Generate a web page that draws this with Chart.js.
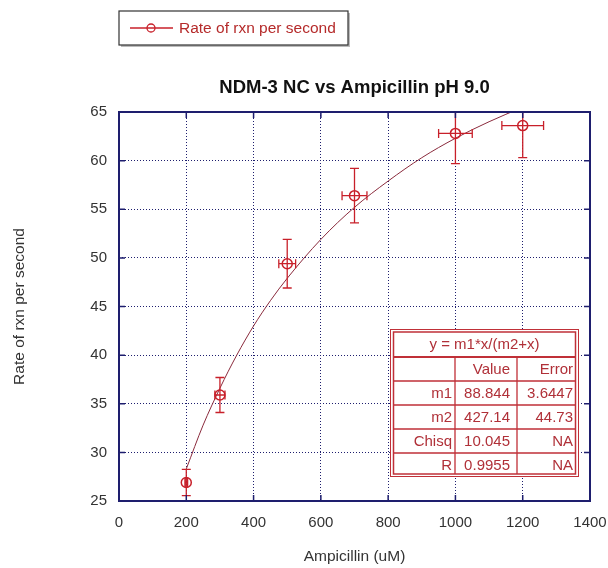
<!DOCTYPE html>
<html><head><meta charset="utf-8">
<script src="https://cdn.jsdelivr.net/npm/chart.js@4/dist/chart.umd.min.js"></script>
<style>html,body{margin:0;padding:0;background:#fff}#wrap{width:608px;height:568px;position:relative}</style>
</head><body><div id="wrap"><canvas id="c"></canvas></div>
<script>
const seriesLabel = 'Rate of rxn per second';
const chartTitle = 'NDM-3 NC vs Ampicillin pH 9.0';
const xTitle = 'Ampicillin (uM)';
const yTitle = 'Rate of rxn per second';
const ampicillin = [200, 300, 500, 700, 1000, 1200];
const rate = [26.9, 35.9, 49.4, 56.4, 62.8, 63.6];
const rateErr = [1.35, 1.8, 2.5, 2.8, 3.1, 3.3];
const ampErr = [4, 15, 25, 37, 50, 62];
const fitX = [200, 250, 300, 350, 400, 450, 500, 600, 700, 800, 900, 1000, 1100, 1200];
const fitY = [28.3, 32.8, 36.6, 40.0, 43.0, 45.6, 47.9, 51.9, 55.2, 57.9, 60.3, 62.3, 64.0, 65.5];
const xTicks = [0, 200, 400, 600, 800, 1000, 1200, 1400];
const yTicks = [25, 30, 35, 40, 45, 50, 55, 60, 65];
const tableHeader = 'y = m1*x/(m2+x)';
const tableCols = ['', 'Value', 'Error'];
const tableRows = [
  ['m1', '88.844', '3.6447'],
  ['m2', '427.14', '44.73'],
  ['Chisq', '10.045', 'NA'],
  ['R', '0.9955', 'NA']
];

const RED = '#c8202a';
const FIT = '#8a2a3c';
const NAVY = '#1e1e6e';
const FONT = "'Liberation Sans', Arial, sans-serif";

const errorBars = {
  id: 'errorBars',
  afterDatasetsDraw(chart) {
    const {ctx, chartArea: a, scales: {x, y}} = chart;
    ctx.save();
    ctx.beginPath();
    ctx.rect(a.left, a.top, a.right - a.left, a.bottom - a.top);
    ctx.clip();
    ctx.strokeStyle = RED;
    ctx.lineWidth = 1.3;
    const cap = 4.5;
    ampicillin.forEach((xv, i) => {
      const px = x.getPixelForValue(xv);
      const py = y.getPixelForValue(rate[i]);
      const yt = y.getPixelForValue(rate[i] + rateErr[i]);
      const yb = y.getPixelForValue(rate[i] - rateErr[i]);
      const xl = x.getPixelForValue(xv - ampErr[i]);
      const xr = x.getPixelForValue(xv + ampErr[i]);
      ctx.beginPath();
      ctx.moveTo(px, yt); ctx.lineTo(px, yb);
      ctx.moveTo(px - cap, yt); ctx.lineTo(px + cap, yt);
      ctx.moveTo(px - cap, yb); ctx.lineTo(px + cap, yb);
      ctx.moveTo(xl, py); ctx.lineTo(xr, py);
      ctx.moveTo(xl, py - cap); ctx.lineTo(xl, py + cap);
      ctx.moveTo(xr, py - cap); ctx.lineTo(xr, py + cap);
      ctx.stroke();
    });
    ctx.restore();
  }
};

const frame = {
  id: 'frame',
  afterDraw(chart) {
    const {ctx, chartArea: a, scales: {x, y}} = chart;
    ctx.save();
    ctx.strokeStyle = NAVY;
    ctx.lineWidth = 1.5;
    const t = 6;
    ctx.beginPath();
    x.ticks.forEach(tk => {
      const px = x.getPixelForValue(tk.value);
      ctx.moveTo(px, a.bottom); ctx.lineTo(px, a.bottom - t);
      ctx.moveTo(px, a.top); ctx.lineTo(px, a.top + t);
    });
    y.ticks.forEach(tk => {
      const py = y.getPixelForValue(tk.value);
      ctx.moveTo(a.left, py); ctx.lineTo(a.left + t, py);
      ctx.moveTo(a.right, py); ctx.lineTo(a.right - t, py);
    });
    ctx.stroke();
    ctx.lineWidth = 2;
    ctx.strokeRect(a.left, a.top, a.right - a.left, a.bottom - a.top);
    ctx.restore();
  }
};

const titleAndLegend = {
  id: 'titleAndLegend',
  afterDraw(chart) {
    const {ctx, chartArea: a} = chart;
    ctx.save();
    ctx.fillStyle = '#111';
    ctx.font = 'bold 18.5px ' + FONT;
    ctx.textAlign = 'center';
    ctx.textBaseline = 'middle';
    ctx.fillText(chartTitle, (a.left + a.right) / 2, 88);
    const bx = 119, by = 11, bw = 229, bh = 34;
    ctx.fillStyle = '#bbb';
    ctx.fillRect(bx + 2, by + 2, bw, bh);
    ctx.fillStyle = '#fff';
    ctx.fillRect(bx, by, bw, bh);
    ctx.strokeStyle = '#333';
    ctx.lineWidth = 1.2;
    ctx.strokeRect(bx, by, bw, bh);
    const cy = by + bh / 2;
    ctx.strokeStyle = RED;
    ctx.lineWidth = 1.3;
    ctx.beginPath();
    ctx.moveTo(bx + 11, cy); ctx.lineTo(bx + 54, cy);
    ctx.stroke();
    ctx.beginPath();
    ctx.arc(bx + 32, cy, 4, 0, Math.PI * 2);
    ctx.stroke();
    ctx.fillStyle = '#b52a2a';
    ctx.font = '15.5px ' + FONT;
    ctx.textAlign = 'left';
    ctx.fillText(chart.data.datasets[0].label, bx + 60, cy + 1);
    ctx.restore();
  }
};

const fitTable = {
  id: 'fitTable',
  afterDraw(chart) {
    const {ctx, chartArea: a} = chart;
    ctx.save();
    const w = 189, hh = 28, rh = 24;
    const h = hh + rh * (tableRows.length + 1);
    const tx = a.right - 11 - w, ty = a.bottom - 24 - h;
    const bounds = [65, 127, 189];
    const pads = [3, 7, 6];
    ctx.fillStyle = '#fff';
    ctx.fillRect(tx, ty, w, h);
    ctx.strokeStyle = '#c03038';
    ctx.lineWidth = 1;
    ctx.strokeRect(tx + 0.5, ty + 0.5, w - 1, h - 1);
    ctx.lineWidth = 1.5;
    ctx.strokeRect(tx + 3.5, ty + 3, w - 7, h - 6);
    ctx.lineWidth = 2.2;
    ctx.beginPath();
    ctx.moveTo(tx + 3, ty + hh); ctx.lineTo(tx + w - 3, ty + hh);
    ctx.stroke();
    ctx.lineWidth = 1.3;
    ctx.beginPath();
    for (let r = 1; r <= tableRows.length; r++) {
      const yy = ty + hh + rh * r;
      ctx.moveTo(tx + 3, yy); ctx.lineTo(tx + w - 3, yy);
    }
    for (let c = 0; c < 2; c++) {
      const cx = tx + bounds[c];
      ctx.moveTo(cx, ty + hh); ctx.lineTo(cx, ty + h - 3);
    }
    ctx.stroke();
    ctx.fillStyle = '#b03038';
    ctx.font = '15px ' + FONT;
    ctx.textBaseline = 'middle';
    ctx.textAlign = 'center';
    ctx.fillText(tableHeader, tx + w / 2, ty + hh / 2 + 2);
    ctx.textAlign = 'right';
    const rows = [tableCols].concat(tableRows);
    rows.forEach((row, r) => {
      const yy = ty + hh + rh * r + rh / 2 + 1;
      row.forEach((txt, c) => {
        ctx.fillText(txt, tx + bounds[c] - pads[c], yy);
      });
    });
    ctx.restore();
  }
};

new Chart(document.getElementById('c'), {
  type: 'scatter',
  data: {
    datasets: [
      {
        label: seriesLabel,
        data: ampicillin.map((v, i) => ({x: v, y: rate[i]})),
        borderColor: RED,
        backgroundColor: 'rgba(0,0,0,0)',
        pointRadius: 5,
        pointBorderWidth: 1.5,
        showLine: false,
        order: 1
      },
      {
        label: 'fit',
        data: fitX.map((v, i) => ({x: v, y: fitY[i]})),
        borderColor: FIT,
        borderWidth: 1,
        pointRadius: 0,
        showLine: true,
        cubicInterpolationMode: 'monotone',
        order: 2
      }
    ]
  },
  options: {
    responsive: true,
    maintainAspectRatio: false,
    animation: false,
    layout: {padding: {left: 0, right: 0, top: 112, bottom: 0}},
    plugins: {
      legend: {display: false},
      tooltip: {enabled: false},
      title: {display: false}
    },
    scales: {
      x: {
        type: 'linear', min: 0, max: 1400,
        afterBuildTicks: s => { s.ticks = xTicks.map(v => ({value: v})); },
        afterFit: s => { s.height = 67; s.paddingLeft = 0; s.paddingRight = 18; },
        grid: {color: NAVY, lineWidth: 1, drawTicks: false},
        border: {display: false, dash: [1, 2]},
        ticks: {color: '#333', font: {family: FONT, size: 15}, padding: 13, maxRotation: 0, callback: v => String(v)},
        title: {display: true, text: xTitle, color: '#333', font: {family: FONT, size: 15.5}, padding: {top: 4, bottom: 2}}
      },
      y: {
        type: 'linear', min: 25, max: 65,
        afterBuildTicks: s => { s.ticks = yTicks.map(v => ({value: v})); },
        afterFit: s => { s.width = 119; s.paddingTop = 0; s.paddingBottom = 0; },
        grid: {color: NAVY, lineWidth: 1, drawTicks: false},
        border: {display: false, dash: [1, 2]},
        ticks: {color: '#333', font: {family: FONT, size: 15}, padding: 12, callback: v => String(v)},
        title: {display: true, text: yTitle, color: '#333', font: {family: FONT, size: 15.5}, padding: {top: 10, bottom: 4}}
      }
    }
  },
  plugins: [errorBars, frame, titleAndLegend, fitTable]
});
</script>
</body></html>
